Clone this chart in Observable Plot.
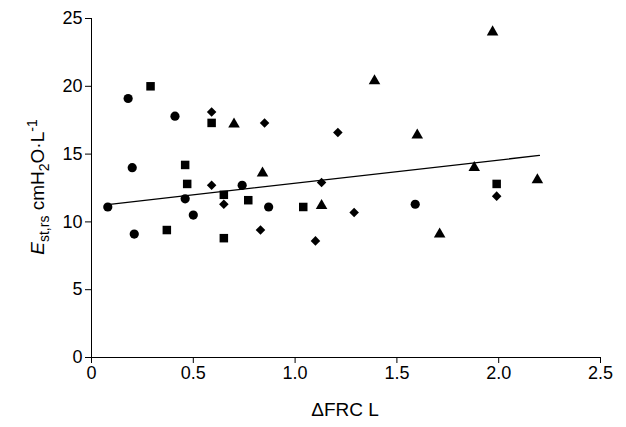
<!DOCTYPE html>
<html><head><meta charset="utf-8">
<script src="https://cdn.jsdelivr.net/npm/d3@7"></script>
<script src="https://cdn.jsdelivr.net/npm/@observablehq/plot@0.6"></script>
<style>body{margin:0;background:#fff}</style>
</head><body><div id="chart"></div>
<script>
const circleX = [0.08,0.18,0.2,0.21,0.41,0.46,0.5,0.74,0.87,1.59]
const circleY = [11.1,19.1,14.0,9.1,17.8,11.7,10.5,12.7,11.1,11.3]
const squareX = [0.29,0.59,0.46,0.47,0.37,0.65,0.65,0.77,1.04,1.99]
const squareY = [20.0,17.3,14.2,12.8,9.4,12.0,8.8,11.6,11.1,12.8]
const diamondX = [0.59,0.85,0.59,0.65,0.83,1.21,1.13,1.10,1.29,1.99]
const diamondY = [18.1,17.3,12.7,11.3,9.4,16.6,12.9,8.6,10.7,11.9]
const triangleX = [0.70,0.84,1.13,1.39,1.60,1.71,1.88,1.97,2.19]
const triangleY = [17.2,13.6,11.2,20.4,16.4,9.1,14.0,24.0,13.1]
const fitX = [0.09,2.2]
const fitY = [11.3,14.9]

const pts = (xs, ys) => xs.map((x,i) => ({x, y: ys[i]}))

let chart = Plot.plot({
  width: 626, height: 427,
  marginLeft: 91, marginRight: 26, marginTop: 18, marginBottom: 70,
  style: {fontFamily: "Liberation Sans, Arial, sans-serif", fontSize: "18px", color: "#000"},
  x: {domain: [0, 2.5], ticks: [0,0.5,1,1.5,2,2.5], tickFormat: d => d === 0 ? "0" : d3.format(".1f")(d), label: null, tickSize: 6},
  y: {domain: [0, 25], ticks: [0,5,10,15,20,25], label: null, tickSize: 6},
  marks: [
    Plot.ruleX([0]), Plot.ruleY([0]),
    Plot.line(pts(fitX, fitY), {x: "x", y: "y", stroke: "#000", strokeWidth: 1.3}),
    Plot.dot(pts(circleX, circleY), {x: "x", y: "y", symbol: "circle", fill: "#000", r: 4.6}),
    Plot.dot(pts(squareX, squareY), {x: "x", y: "y", symbol: "square", fill: "#000", r: 4.8}),
    Plot.dot(pts(diamondX, diamondY), {x: "x", y: "y", symbol: "diamond2", fill: "#000", r: 4.3}),
    Plot.dot(pts(triangleX, triangleY), {x: "x", y: "y", symbol: "triangle", fill: "#000", r: 4.3})
  ]
})
const svg = d3.select(chart)
svg.selectAll("[aria-label$='tick label'] text").attr("fill", "#000")
svg.append("text").attr("x", 345).attr("y", 416).attr("text-anchor", "middle")
  .attr("font-size", 19).text("ΔFRC L")
const yl = svg.append("text").attr("transform", "translate(44,187) rotate(-90)")
  .attr("text-anchor", "middle").attr("font-size", 19)
yl.append("tspan").attr("font-style", "italic").text("E")
yl.append("tspan").attr("dy", 5).attr("font-size", 14).text("st,rs")
yl.append("tspan").attr("dy", -5).text(" cmH")
yl.append("tspan").attr("dy", 5).attr("font-size", 14).text("2")
yl.append("tspan").attr("dy", -5).text("O·L")
yl.append("tspan").attr("dy", -7).attr("font-size", 14).text("-1")
d3.select('#chart').append(() => chart)
</script></body></html>
